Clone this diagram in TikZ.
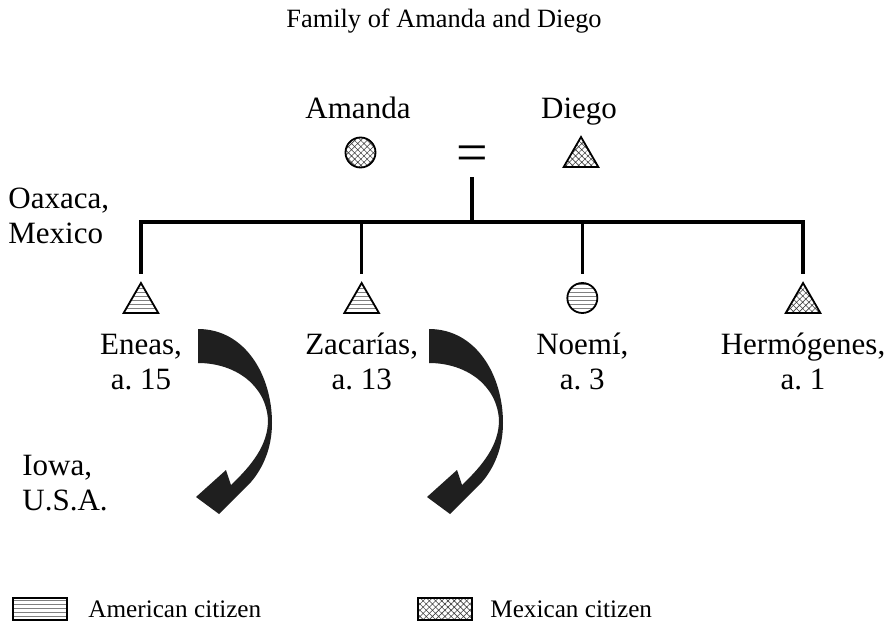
\documentclass[tikz,border=0pt]{standalone}
\usepackage{fontspec}
\setmainfont{Liberation Serif}
\usetikzlibrary{shapes.geometric, patterns.meta}

\begin{document}
\begin{tikzpicture}[x=0.5pt, y=-0.5pt,
  level distance=53pt,
  level 1/.style={sibling distance=110.35pt},
  every child node/.style={anchor=north},
  edge from parent/.style={draw, line width=1.6pt},
  edge from parent path={(\tikzparentnode) -- ++(0,-22.5pt) -| ([yshift=4.5pt]\tikzchildnode.north)},
  label distance=8.25pt,
  sym/.style={draw, line width=0.9pt, inner sep=0pt, outer sep=0pt},
  female/.style={sym, circle, minimum size=15pt},
  male/.style={sym, regular polygon, regular polygon sides=3, minimum size=20pt},
  american/.style={pattern={Lines[angle=0, distance=2pt, line width=0.4pt]}, pattern color=gray},
  mexican/.style={pattern={Hatch[angle=45, distance=2.2pt, line width=0.3pt]}, pattern color=black!75},
  bigname/.style={font=\fontsize{15.5}{17.5}\selectfont},
  kid/.style={bigname, align=center, inner sep=0pt},
  small/.style={font=\fontsize{13.2}{16}\selectfont},
  keytext/.style={font=\fontsize{12.6}{15}\selectfont, anchor=base west, inner sep=0pt}]
  \useasboundingbox (0,0) rectangle (896,632);

  \node[small, anchor=base] (title) at (444,27) {Family of Amanda and Diego};

  % parents
  \node[bigname, anchor=base] (amanda-name) at (358,118) {Amanda};
  \node[bigname, anchor=base] (diego-name) at (579,118) {Diego};
  \node[female, mexican] (amanda) at (360.5,152.5) {};
  \node[male, mexican, anchor=north] (diego) at (581,137) {};
  \node[font=\fontsize{28}{28}\selectfont, anchor=base, inner sep=0pt] (married) at (472,171) {=};

  % children
  \node[coordinate] (union) at (472,177) {}
    child {node[male, american,
      label={[name=eneas-name, kid]below:{\strut Eneas,\\a.\ 15}}] (eneas) {}}
    child {node[male, american,
      label={[name=zacarias-name, kid]below:{\strut Zacarías,\\a.\ 13}}] (zacarias) {}}
    child {node[female, american,
      label={[name=noemi-name, kid]below:{\strut Noemí,\\a.\ 3}}] (noemi) {}}
    child {node[male, mexican,
      label={[name=hermogenes-name, kid]below:{\strut Hermógenes,\\a.\ 1}}] (hermogenes) {}};

  % places
  \node[bigname, align=left, anchor=base west, inner sep=0pt] (oaxaca) at (8,243) {Oaxaca,\\Mexico};
  \node[bigname, align=left, anchor=base west, inner sep=0pt] (iowa) at (22,510) {Iowa,\\U.S.A.};

  % moves to Iowa
  \foreach \dx in {0,231}
    \fill[black!88, shift={(\dx,0)}] (198,329) .. controls (245,329) and (272,375) .. (272,423)
      .. controls (272,448) and (263,468) .. (251,482) -- (219,514) -- (196,497) -- (226,470) -- (231,485)
      .. controls (252,465) and (268,445) .. (268,420)
      .. controls (266,385) and (235,363) .. (198,363) -- cycle;

  % key
  \node[sym, american, line width=0.6pt, minimum width=27pt, minimum height=11pt, anchor=north west] (usa-key) at (13,598) {};
  \node[keytext] (usa-text) at (88,617) {American citizen};
  \node[sym, mexican, line width=0.6pt, minimum width=27pt, minimum height=11pt, anchor=north west] (mex-key) at (418,598) {};
  \node[keytext] (mex-text) at (490,617) {Mexican citizen};
\end{tikzpicture}
\end{document}
